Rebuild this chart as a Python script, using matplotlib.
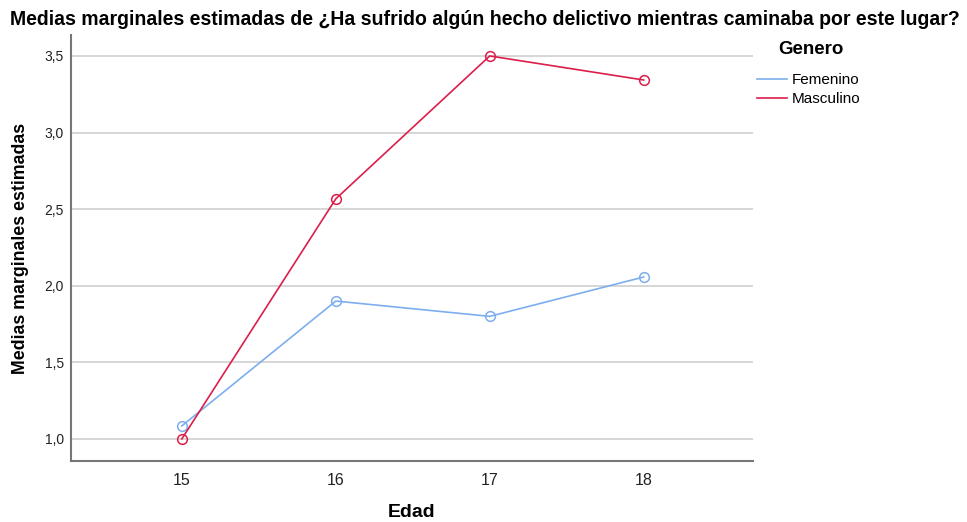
import matplotlib
matplotlib.use("Agg")
import matplotlib.pyplot as plt
from matplotlib.lines import Line2D

plt.rcParams['font.family'] = ['Liberation Sans', 'DejaVu Sans']

edad = [15, 16, 17, 18]
edad_labels = ["15", "16", "17", "18"]
femenino = [1.085, 1.90, 1.80, 2.057]
masculino = [1.00, 2.567, 3.50, 3.343]
yticks = [1.0, 1.5, 2.0, 2.5, 3.0, 3.5]
ytick_labels = ["1,0", "1,5", "2,0", "2,5", "3,0", "3,5"]
series_names = ["Femenino", "Masculino"]

c_fem = "#7DAEEE"
c_mas = "#DC1E4A"

fig = plt.figure(figsize=(9.67, 5.22), dpi=100)
ax = fig.add_axes([0.0734, 0.1169, 0.7053, 0.8161])

for yv in yticks:
    ax.axhline(yv, color="#cfcfcf", lw=1.2, zorder=1)

ax.plot(edad, femenino, color=c_fem, lw=1.2, marker="o", ms=7, mfc="none", mew=1.1, zorder=3)
ax.plot(edad, masculino, color=c_mas, lw=1.2, marker="o", ms=7, mfc="none", mew=1.1, zorder=3)

ax.set_xlim(14.28, 18.71)
ax.set_ylim(0.856, 3.637)
ax.set_xticks(edad)
ax.set_xticklabels(edad_labels, fontsize=11.5, color="#222222")
ax.set_yticks(yticks)
ax.set_yticklabels(ytick_labels, fontsize=10, color="#222222")
ax.tick_params(axis="x", length=0, pad=9)
ax.tick_params(axis="y", length=0, pad=5)
for s in ["top", "right"]:
    ax.spines[s].set_visible(False)
for s in ["left", "bottom"]:
    ax.spines[s].set_color("#777777")
    ax.spines[s].set_linewidth(1.5)

ax.set_xlabel("Edad", fontsize=14, fontweight="bold", labelpad=11.5)
ax.set_ylabel("Medias marginales estimadas", fontsize=12.8, fontweight="bold", labelpad=11)

fig.text(0.5015, 0.963, "Medias marginales estimadas de ¿Ha sufrido algún hecho delictivo mientras caminaba por este lugar?",
         ha="center", va="center", fontsize=14.05, fontweight="bold")

fig.text(778 / 967, 1 - 50 / 522, "Genero", ha="left", va="center", fontsize=13.5, fontweight="bold")

handles = [Line2D([0], [0], color=c_fem, lw=1.2), Line2D([0], [0], color=c_mas, lw=1.2)]
leg = fig.legend(handles, series_names,
                 loc="upper left", bbox_to_anchor=(757 / 967, 1 - 73 / 522), frameon=False,
                 fontsize=11, handlelength=1.95, handletextpad=0.33, labelspacing=0.33,
                 borderaxespad=0, borderpad=0)

fig.savefig("out.png", dpi=100)
